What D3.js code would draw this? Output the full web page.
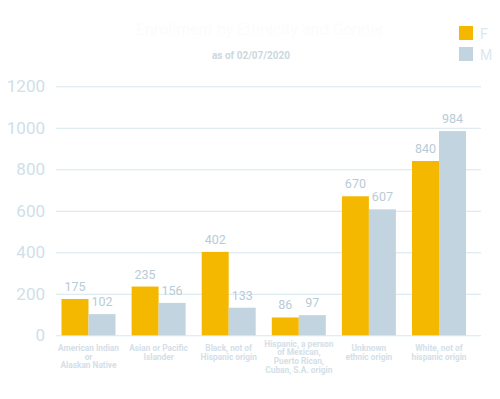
<!DOCTYPE html>
<html><head><meta charset="utf-8">
<script src="https://cdn.jsdelivr.net/npm/d3@7"></script>
<style>body{margin:0;background:#fff;}svg{display:block;font-family:Roboto,sans-serif;}</style>
</head><body>
<svg id="c" width="500" height="399"></svg>
<script>
const categories = ["American Indian\nor\nAlaskan Native","Asian or Pacific\nIslander","Black, not of\nHispanic origin","Hispanic, a person\nof Mexican,\nPuerto Rican,\nCuban, S.A. origin","Unknown\nethnic origin","White, not of\nhispanic origin"];
const seriesNames = ["F","M"];
const femaleValues = [175,235,402,86,670,840];
const maleValues = [102,156,133,97,607,984];
const yTicks = [0,200,400,600,800,1000,1200];
const colors = {F:"#f5b800", M:"#c1d4df"};

const svg = d3.select("#c");
const y = d3.scaleLinear().domain([0,1200]).range([335.3,86.3]);
const x0 = d3.scalePoint().domain(categories).range([88.5,439]);
const x1 = d3.scaleBand().domain(seriesNames).range([-27,27]);

// title (very faint)
svg.append("text").attr("x",260).attr("y",35).attr("text-anchor","middle")
  .attr("font-size",16).attr("fill","#fcfcfc").text("Enrollment by Ethnicity and Gender");
svg.append("text").attr("x",251).attr("y",58.5).attr("text-anchor","middle")
  .attr("font-size",10).attr("font-weight","bold").attr("fill","#cbd8e1").text("as of 02/07/2020");

// grid
const yAxis = d3.axisLeft(y).tickValues(yTicks).tickSize(-(481-56)).tickPadding(11).tickFormat(d3.format("d"));
const g = svg.append("g").attr("transform","translate(56,0)").call(yAxis);
g.select(".domain").remove();
g.selectAll(".tick line").attr("stroke","#d6e6ee").attr("stroke-width",1);
g.selectAll(".tick text").attr("font-size",17).attr("fill","#cfe0ea").attr("font-family","Roboto,sans-serif");

const data = categories.map((c,i)=>({cat:c, vals:[{k:"F",v:femaleValues[i]},{k:"M",v:maleValues[i]}]}));
const grp = svg.selectAll(".grp").data(data).join("g").attr("transform",d=>`translate(${x0(d.cat)},0)`);
grp.selectAll("rect").data(d=>d.vals).join("rect")
  .attr("x",d=>x1(d.k)).attr("width",x1.bandwidth())
  .attr("y",d=>y(d.v)).attr("height",d=>y(0)-y(d.v)).attr("fill",d=>colors[d.k]);
grp.selectAll("text.val").data(d=>d.vals).join("text").attr("class","val")
  .attr("x",d=>x1(d.k)+x1.bandwidth()/2).attr("y",d=>y(d.v)-8)
  .attr("text-anchor","middle").attr("font-size",12.5).attr("fill","#b9cbd7").text(d=>d.v);

// category labels
grp.each(function(d){
  const lines = d.cat.split("\n");
  const top = 351 - Math.max(0,lines.length-3)*4.3;
  const t = d3.select(this).append("text").attr("text-anchor","middle")
    .attr("font-size",8.3).attr("font-weight","bold").attr("fill","#d4e0e8");
  lines.forEach((l,i)=>t.append("tspan").attr("x",0).attr("y",top+i*8.6).text(l));
});

// legend
const leg = svg.selectAll(".leg").data(seriesNames).join("g").attr("transform",(d,i)=>`translate(459,${26+i*21})`);
leg.append("rect").attr("width",14).attr("height",14).attr("fill",d=>colors[d]);
leg.append("text").attr("x",21).attr("y",12.5).attr("font-size",14).attr("fill","#dbe8f0").text(d=>d);
</script>
</body></html>
